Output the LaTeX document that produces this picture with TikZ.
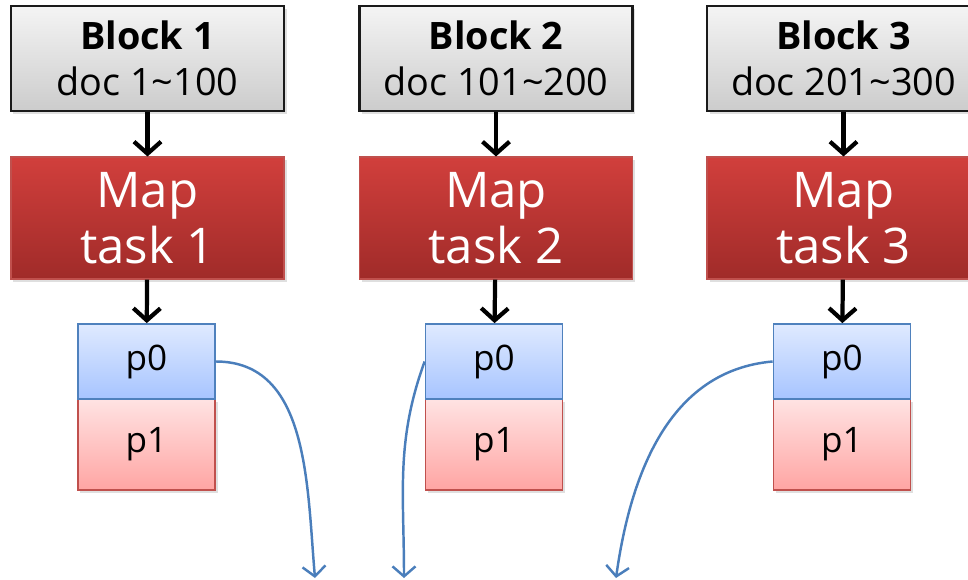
\documentclass[tikz,border=0pt]{standalone}
\usepackage{fontspec}
\setmainfont{Open Sans}
\usepackage{xcolor}
\usepackage{tikz}
\usetikzlibrary{arrows.meta,positioning,shadows}
\definecolor{blockline}{HTML}{1A1A1A}
\definecolor{blocktop}{HTML}{F4F4F4}
\definecolor{blockbot}{HTML}{CCCCCC}
\definecolor{maptop}{HTML}{D13F3C}
\definecolor{mapbot}{HTML}{A02B29}
\definecolor{mapline}{HTML}{C0504D}
\definecolor{ptopline}{HTML}{4F81BD}
\definecolor{ptoptop}{HTML}{DFEAFF}
\definecolor{ptopbot}{HTML}{A7C4FF}
\definecolor{pbotline}{HTML}{C0504D}
\definecolor{pbottop}{HTML}{FFE3E3}
\definecolor{pbotbot}{HTML}{FFA5A3}
\definecolor{shuffle}{HTML}{4A7EBB}
\tikzset{
  blockbox/.style={draw=blockline, line width=1.2pt, top color=blocktop, bottom color=blockbot,
    minimum width=5.46cm, minimum height=2.1cm, inner sep=0pt, align=center,
    font=\fontsize{21.5}{26}\selectfont,
    drop shadow={opacity=0.25, shadow xshift=0.5mm, shadow yshift=-0.6mm}},
  mapbox/.style={draw=mapline, line width=0.6pt, top color=maptop, bottom color=mapbot,
    minimum width=5.46cm, minimum height=2.44cm, inner sep=0pt, align=center, text=white,
    font=\fontsize{28}{31.5}\selectfont,
    drop shadow={opacity=0.25, shadow xshift=0.5mm, shadow yshift=-0.6mm}},
  pzero/.style={draw=ptopline, line width=1pt, top color=ptoptop, bottom color=ptopbot,
    minimum width=2.74cm, minimum height=1.5cm, inner sep=0pt,
    font=\fontsize{20}{22}\selectfont},
  pone/.style={draw=pbotline, line width=1pt, top color=pbottop, bottom color=pbotbot,
    minimum width=2.74cm, minimum height=1.82cm, inner sep=0pt,
    font=\fontsize{20}{22}\selectfont,
    drop shadow={opacity=0.25, shadow xshift=0.5mm, shadow yshift=-0.6mm}},
  flowarr/.style={-{Straight Barb[length=2.4mm, width=5.4mm]}, line width=2.4pt, black},
  shufarr/.style={-{Straight Barb[length=2mm, width=4.6mm]}, draw=shuffle, line width=1.4pt}
}

\begin{document}
\begin{tikzpicture}
  \useasboundingbox (0,0) rectangle (19.36,-11.6);
  \clip (0,0) rectangle (19.36,-11.6);

  % Input blocks
  \node[blockbox] (b1) at (2.95,-1.17) {\textbf{Block 1}\\doc 1\char`~100};
  \node[blockbox] (b2) at (9.92,-1.17) {\textbf{Block 2}\\doc 101\char`~200};
  \node[blockbox] (b3) at (16.87,-1.17) {\textbf{Block 3}\\doc 201\char`~300};

  % Map tasks
  \node[mapbox] (m1) at (2.95,-4.36) {Map\\task 1};
  \node[mapbox] (m2) at (9.92,-4.36) {Map\\task 2};
  \node[mapbox] (m3) at (16.87,-4.36) {Map\\task 3};

  % Partitions
  \node[pone] (q1) at (2.93,-8.89) {p1};
  \node[pone] (q2) at (9.88,-8.89) {p1};
  \node[pone] (q3) at (16.84,-8.89) {p1};
  \node[pzero] (p1) at (2.93,-7.23) {p0};
  \node[pzero] (p2) at (9.88,-7.23) {p0};
  \node[pzero] (p3) at (16.84,-7.23) {p0};

  \draw[flowarr] (b1) -- (m1);
  \draw[flowarr] (b2) -- (m2);
  \draw[flowarr] (b3) -- (m3);
  \draw[flowarr] (m1) -- (p1);
  \draw[flowarr] (m2) -- (p2);
  \draw[flowarr] (m3) -- (p3);

  % Shuffle of p0
  \coordinate (e1) at (6.3,-11.56);
  \coordinate (e2) at (8.08,-11.56);
  \coordinate (e3) at (12.32,-11.56);
  \draw[shufarr] (p1.east) to[out=0, in=95] (e1);
  \draw[shufarr] (p2.west) to[out=-110, in=90] (e2);
  \draw[shufarr] (p3.west) to[out=185, in=82] (e3);
\end{tikzpicture}
\end{document}
